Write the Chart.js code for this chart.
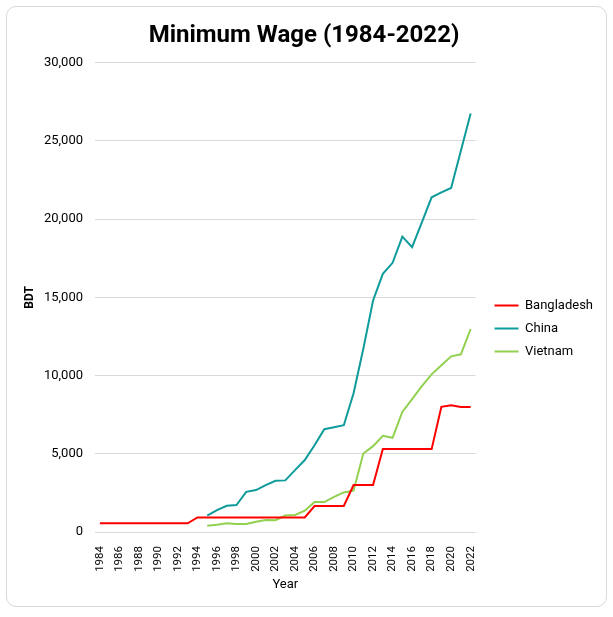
<!DOCTYPE html>
<html>
<head>
<meta charset="utf-8">
<script src="https://cdn.jsdelivr.net/npm/chart.js@4.4.1/dist/chart.umd.min.js"></script>
<style>
  body{margin:0;background:#fff}
  #card{position:absolute;left:6px;top:6px;width:599px;height:599px;border:1px solid #d9d9d9;border-radius:10px;background:#fff}
  #wrap{position:absolute;left:0;top:0;width:613px;height:617px}
</style>
</head>
<body>
<div id="card"></div>
<div id="wrap"><canvas id="canvas-wage"></canvas></div>
<script>
// years on the x axis
const years=[]
for(let y=1984;y<=2022;y++){ years.push(String(y)) }

// monthly minimum wage, BDT
const bangladesh=[560,560,560,560,560,560,560,560,560,560,
  930,930,930,930,930,930,930,930,930,930,930,930,
  1662.5,1662.5,1662.5,1662.5,
  3000,3000,3000,
  5300,5300,5300,5300,5300,5300,
  8000,8100,8000,8000]

const china=[null,null,null,null,null,null,null,null,null,null,null,
  1040,1400,1680,1720,2570,2680,3000,3270,3300,3960,4600,5550,6570,6700,6830,
  8870,11720,14800,16510,17210,18890,18210,19800,21400,21720,22000,24380,26760]

const vietnam=[null,null,null,null,null,null,null,null,null,null,null,
  400,470,555,510,510,660,770,750,1050,1085,1360,1915,1915,2250,2530,
  2640,5020,5490,6150,6020,7680,8490,9320,10080,10660,11230,11360,12980]

const seriesNames=['Bangladesh','China','Vietnam']
const seriesColors=['#ff0000','#0f9b9b','#92d050']

const fontFam="Roboto, 'DejaVu Sans', sans-serif"
const canvas_wage=document.querySelector("#canvas-wage")

// nudge the legend so it sits like the original
const legendShift={
  id:'legendShift',
  afterLayout(chart){
    const lg=chart.legend
    if(!lg) return
    lg.top+=25; lg.bottom+=25
    lg.left+=9; lg.right+=9
  }
}

const datasets=[bangladesh,china,vietnam].map((d,i)=>({
  label:seriesNames[i],
  data:d,
  borderColor:seriesColors[i],
  backgroundColor:seriesColors[i],
  borderWidth:2,
  pointRadius:0,
  tension:0,
  fill:false
}))

new Chart(canvas_wage,{
  type:'line',
  data:{labels:years,datasets:datasets},
  options:{
    responsive:true,
    maintainAspectRatio:false,
    animation:false,
    layout:{padding:{top:14,left:14,right:19,bottom:24}},
    plugins:{
      title:{
        display:true,
        text:'Minimum Wage (1984-2022)',
        color:'#000',
        font:{family:fontFam,size:24,weight:'bold'},
        padding:{top:8,bottom:12}
      },
      legend:{
        display:true,
        position:'right',
        align:'center',
        labels:{
          boxWidth:24,
          boxHeight:0,
          padding:10,
          color:'#000',
          font:{family:fontFam,size:13}
        }
      },
      tooltip:{enabled:false}
    },
    scales:{
      x:{
        offset:true,
        afterFit:scale=>{ scale.height=61 },
        grid:{display:false},
        border:{display:false},
        ticks:{
          color:'#000',
          font:{family:fontFam,size:11.5},
          autoSkip:false,
          minRotation:90,
          maxRotation:90,
          padding:6,
          callback:function(v,i){ return i%2==0 ? this.getLabelForValue(v) : '' }
        },
        title:{display:true,text:'Year',color:'#000',font:{family:fontFam,size:13},padding:{top:7,bottom:0}}
      },
      y:{
        min:0,
        max:30000,
        afterFit:scale=>{ scale.width=81 },
        grid:{color:'#d9d9d9',lineWidth:1,drawTicks:false},
        border:{display:false},
        ticks:{
          stepSize:5000,
          color:'#000',
          padding:12,
          font:{family:fontFam,size:13},
          callback:v=>v.toLocaleString('en-US')
        },
        title:{display:true,text:'BDT',color:'#000',font:{family:fontFam,size:12,weight:'bold'},padding:{top:9,bottom:4}}
      }
    }
  },
  plugins:[legendShift]
})
</script>
</body>
</html>
